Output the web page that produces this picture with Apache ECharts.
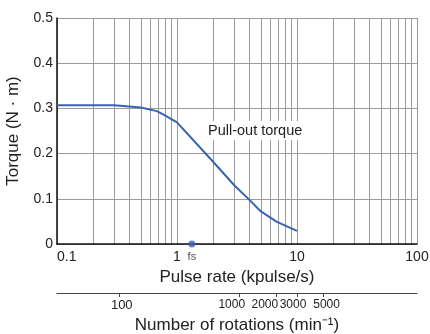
<!DOCTYPE html>
<html><head><meta charset="utf-8">
<script src="https://cdn.jsdelivr.net/npm/echarts@6/dist/echarts.min.js"></script>
<style>html,body{margin:0;padding:0;background:#fff}#c{width:430px;height:334px}</style>
</head><body><div id="c"></div>
<script>
// Data
const pulseRate = [0.1, 0.3, 0.5, 0.68, 0.8, 1.0, 2.0, 3.0, 3.9, 5.0, 6.8, 10];
const torque    = [0.307, 0.307, 0.302, 0.294, 0.284, 0.269, 0.182, 0.130, 0.101, 0.072, 0.049, 0.029];
const fsPoint = [[1.33, 0]];
const xGridValues = [0.1,0.2,0.3,0.4,0.5,0.6,0.7,0.8,0.9,1,2,3,4,5,6,7,8,9,10,20,30,40,50,60,70,80,90,100];
const xLabelValues = [0.1, 1, 10, 100];
const rpmTicks = [100, 1000, 2000, 3000, 5000];
const yTicks = [0, 0.1, 0.2, 0.3, 0.4, 0.5];

const FONT = "'Liberation Sans Narrow','Liberation Sans',Arial,sans-serif";
const TXT = '#222';
const chart = echarts.init(document.getElementById('c'), null, {renderer: 'canvas'});
chart.setOption({
  animation: false,
  backgroundColor: '#fff',
  grid: [
    {left: 57, right: 13, top: 18, bottom: 90, containLabel: false, outerBoundsMode: 'none'},
    {left: 57, right: 13, top: 292, height: 1, containLabel: false, outerBoundsMode: 'none'}
  ],
  xAxis: [
    {
      type: 'log', logBase: 10, min: 0.1, max: 100, gridIndex: 0,
      name: 'Pulse rate (kpulse/s)', nameLocation: 'middle', nameGap: 25,
      nameTextStyle: {fontFamily: FONT, fontSize: 17, color: TXT},
      axisLine: {show: true, lineStyle: {color: '#111', width: 1.5}},
      axisTick: {show: false, customValues: xGridValues},
      axisLabel: {customValues: xLabelValues, fontFamily: FONT, fontSize: 14, color: TXT, margin: 6,
        alignMinLabel: 'left', formatter: v => String(v)},
      splitLine: {show: true, lineStyle: {color: '#9a9a9a', width: 1}}
    },
    {
      type: 'log', logBase: 10, min: 30, max: 30000, gridIndex: 1, position: 'bottom',
      name: 'Number of rotations (min\u207B\u00B9)', nameLocation: 'middle', nameGap: 24,
      nameTextStyle: {fontFamily: FONT, fontSize: 17, color: TXT},
      axisLine: {show: true, lineStyle: {color: '#444', width: 1}},
      axisTick: {show: true, customValues: rpmTicks, length: 4, inside: false, lineStyle: {color: '#444'}},
      axisLabel: {customValues: rpmTicks, fontFamily: FONT, fontSize: 12, color: TXT, margin: 6,
        formatter: v => '{o' + v + '|' + v + '}',
        rich: {
          o100:  {fontFamily: FONT, fontSize: 13, color: TXT, padding: [0, 0, 0, 4]},
          o1000: {fontFamily: FONT, fontSize: 12, color: TXT, padding: [0, 16, 0, 0]},
          o2000: {fontFamily: FONT, fontSize: 12, color: TXT, padding: [0, 22, 0, 0]},
          o3000: {fontFamily: FONT, fontSize: 12, color: TXT, padding: [0, 8, 0, 0]},
          o5000: {fontFamily: FONT, fontSize: 12, color: TXT, padding: [0, 0, 0, 6]}
        }},
      splitLine: {show: false}
    }
  ],
  yAxis: [
    {
      type: 'value', min: 0, max: 0.5, interval: 0.1, gridIndex: 0,
      name: 'Torque (N \u00B7 m)', nameLocation: 'middle', nameGap: 35, nameRotate: 90,
      nameTextStyle: {fontFamily: FONT, fontSize: 17, color: TXT},
      axisLine: {show: true, lineStyle: {color: '#111', width: 1.5}},
      axisTick: {show: false},
      axisLabel: {fontFamily: FONT, fontSize: 14, color: TXT, margin: 4,
        formatter: v => yTicks.includes(+v.toFixed(1)) ? String(+v.toFixed(1)) : ''},
      splitLine: {show: true, lineStyle: {color: '#9a9a9a', width: 1}}
    },
    {
      type: 'value', gridIndex: 1, show: false, min: 0, max: 1
    }
  ],
  series: [
    {
      type: 'line', xAxisIndex: 0, yAxisIndex: 0,
      data: pulseRate.map((x, i) => [x, torque[i]]),
      showSymbol: false, smooth: false,
      lineStyle: {color: '#3a62b4', width: 2},
      z: 5
    },
    {
      type: 'scatter', xAxisIndex: 0, yAxisIndex: 0,
      data: fsPoint, symbolSize: 7, itemStyle: {color: '#3a62b4'},
      label: {show: true, position: 'bottom', formatter: 'fs', distance: 4,
        fontFamily: FONT, fontSize: 11, color: TXT},
      z: 6
    }
  ],
  graphic: [
    {type: 'text', left: 206, top: 121, z: 10,
      style: {text: 'Pull-out torque', fontFamily: FONT, fontSize: 14.5, fill: TXT,
        backgroundColor: '#fff', padding: [2, 2]}}
  ]
});
</script></body></html>
